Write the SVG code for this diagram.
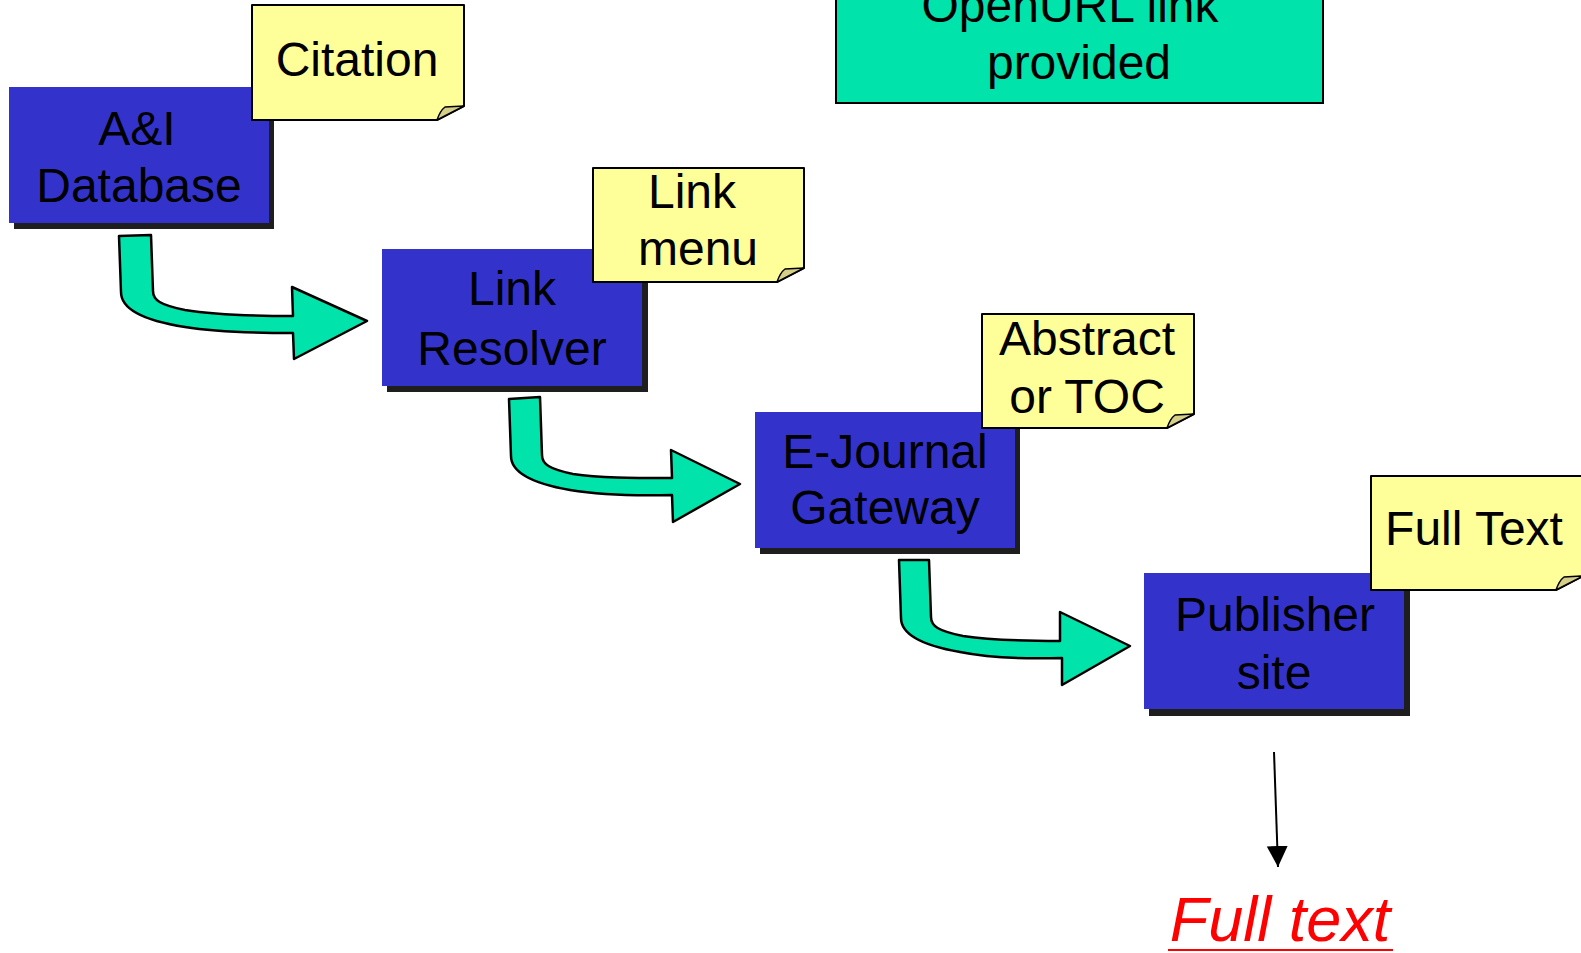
<svg xmlns="http://www.w3.org/2000/svg" width="1581" height="953" viewBox="0 0 1581 953">
<style>
text{font-family:"Liberation Sans",Arial,sans-serif;font-size:48px;fill:#000;text-anchor:middle}
.box{fill:#3333CC}
.shadow{fill:#1E1E1E}
.note{fill:#FFFF99;stroke:#000;stroke-width:2;stroke-linejoin:round}
.fold{fill:#D6CF8A;stroke:#000;stroke-width:1.5;stroke-linejoin:round}
.arrow{fill:#00E3AB;stroke:#000;stroke-width:2.5;stroke-linejoin:round}
.red{fill:#FF0000;font-style:italic;font-size:63px}
</style>
<defs>
<marker id="ah" markerWidth="21" markerHeight="22" refX="21" refY="0" orient="auto" markerUnits="userSpaceOnUse" viewBox="0 -11 21 22">
<path d="M0,-10.5 L21,0 L0,10.5 Z" fill="#000"/>
</marker>
</defs>
<rect width="1581" height="953" fill="#fff"/>

<g id="openurl">
<rect x="836" y="-60" width="487" height="163" fill="#00E3AB" stroke="#000" stroke-width="2"/>
<text x="1070" y="22">OpenURL link</text>
<text x="1079" y="79">provided</text>
</g>

<g id="connectors">
<path class="arrow" d="M119,236 L151,235 L153,291 C153,300 160,305 185,310 C215,315 250,316 293,316 L292,287 L367,321 L294,359 L293,333 C250,333 215,332 185,327 C140,320 121,308 121,292 Z"/>
<path class="arrow" d="M509,399 L540,397 L542,455 C542,464 549,469 573,474 C600,478 630,478 672,478 L671,450 L740,484 L673,522 L672,495 C635,496 600,495 570,490 C530,483 511,471 511,456 Z"/>
<path class="arrow" d="M899,560 L929,560 L931,617 C931,626 938,631 963,636 C990,640 1020,641 1060,641 L1060,612 L1130,646 L1062,685 L1062,658 C1025,659 990,658 960,652 C920,645 901,633 901,618 Z"/>
<line x1="1274" y1="752" x2="1278" y2="867" stroke="#000" stroke-width="2" marker-end="url(#ah)"/>
</g>

<g id="aidb">
<rect class="shadow" x="14" y="93" width="260" height="136"/>
<rect class="box" x="9" y="87" width="260" height="136"/>
<text x="137" y="145">A&amp;I</text>
<text x="139" y="202">Database</text>
</g>
<g id="citation">
<path class="note" d="M252,5 L464,5 L464,106 L437,120 L252,120 Z"/>
<path class="fold" d="M437,120 C439,114 441,110 445,107 L464,106 Z"/>
<text x="357" y="76">Citation</text>
</g>

<g id="resolver">
<rect class="shadow" x="387" y="255" width="261" height="137"/>
<rect class="box" x="382" y="249" width="260" height="137"/>
<text x="512" y="305">Link</text>
<text x="512" y="365">Resolver</text>
</g>
<g id="linkmenu">
<path class="note" d="M593,168 L804,168 L804,268 L777,282 L593,282 Z"/>
<path class="fold" d="M777,282 C779,276 781,272 785,269 L804,268 Z"/>
<text x="692" y="208">Link</text>
<text x="698" y="265">menu</text>
</g>

<g id="ejournal">
<rect class="shadow" x="760" y="418" width="260" height="136"/>
<rect class="box" x="755" y="412" width="260" height="136"/>
<text x="885" y="468">E-Journal</text>
<text x="885" y="524">Gateway</text>
</g>
<g id="abstract">
<path class="note" d="M982,314 L1194,314 L1194,414 L1167,428 L982,428 Z"/>
<path class="fold" d="M1167,428 C1169,422 1171,418 1175,415 L1194,414 Z"/>
<text x="1087" y="355">Abstract</text>
<text x="1087" y="413">or TOC</text>
</g>

<g id="publisher">
<rect class="shadow" x="1149" y="579" width="261" height="137"/>
<rect class="box" x="1144" y="573" width="260" height="136"/>
<text x="1275" y="631">Publisher</text>
<text x="1274" y="689">site</text>
</g>
<g id="fulltextnote">
<path class="note" d="M1371,476 L1583,476 L1583,576 L1556,590 L1371,590 Z"/>
<path class="fold" d="M1556,590 C1558,584 1560,580 1564,577 L1583,576 Z"/>
<text x="1474" y="545">Full Text</text>
</g>

<g id="fulltext">
<text class="red" x="1280" y="941">Full text</text>
<line x1="1168" y1="950" x2="1393" y2="950" stroke="#FF0000" stroke-width="2"/>
</g>
</svg>
